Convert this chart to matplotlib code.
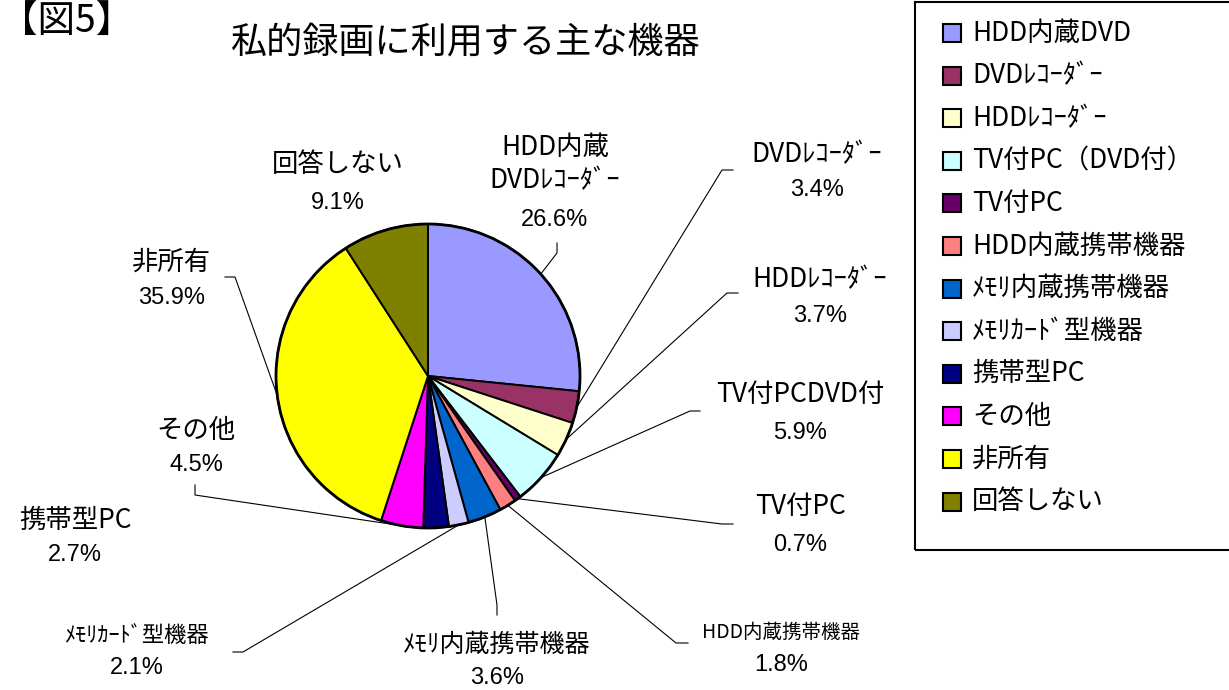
import matplotlib
matplotlib.use('Agg')
import matplotlib.pyplot as plt
import numpy as np
from matplotlib.patches import Rectangle

plt.rcParams['font.family'] = ['Noto Sans CJK JP', 'DejaVu Sans']

# データ
legend_labels = ['HDD内蔵DVD', 'DVDﾚｺｰﾀﾞｰ', 'HDDﾚｺｰﾀﾞｰ', 'TV付PC（DVD付）', 'TV付PC',
                 'HDD内蔵携帯機器', 'ﾒﾓﾘ内蔵携帯機器', 'ﾒﾓﾘｶｰﾄﾞ型機器', '携帯型PC',
                 'その他', '非所有', '回答しない']
slice_labels = ['HDD内蔵\nDVDﾚｺｰﾀﾞｰ', 'DVDﾚｺｰﾀﾞｰ', 'HDDﾚｺｰﾀﾞｰ', 'TV付PCDVD付', 'TV付PC',
                'HDD内蔵携帯機器', 'ﾒﾓﾘ内蔵携帯機器', 'ﾒﾓﾘｶｰﾄﾞ型機器', '携帯型PC',
                'その他', '非所有', '回答しない']
values = [26.6, 3.4, 3.7, 5.9, 0.7, 1.8, 3.6, 2.1, 2.7, 4.5, 35.9, 9.1]
colors = ['#9999FF', '#993366', '#FFFFCC', '#CCFFFF', '#660066', '#FF8080',
          '#0066CC', '#CCCCFF', '#000080', '#FF00FF', '#FFFF00', '#808000']

# ラベル配置 (ピクセル座標: x, 名前のy, %のy, 名前の文字サイズ)
label_x = [555, 817, 820, 800, 800, 781, 497, 137, 75, 196, 172, 338]
name_y = [164, 155, 280, 395, 507, 632, 645, 635, 520, 430, 262, 165]
pct_y = [220, 190, 316, 433, 545, 665, 678, 668, 555, 465, 298, 203]
name_size = [19, 19, 19, 19, 19, 14, 18, 16, 19, 19, 19, 19]
# 引き出し線の折れ点 (None は線なし)
leader_pts = [[(557, 253), (557, 243)],
              [(722, 170), (733, 170)],
              [(727, 293), (738, 293)],
              [(690, 411), (700, 411)],
              [(722, 524), (733, 524)],
              [(676, 643), (688, 643)],
              [(497, 605), (497, 615)],
              [(243, 652), (233, 652)],
              None,
              [(195, 495), (195, 485)],
              [(235, 277), (225, 277)],
              None]

W, H = 1229, 690
CX, CY, R = 428, 376, 152

fig = plt.figure(figsize=(W / 100, H / 100), dpi=100)
ax = fig.add_axes([0, 0, 1, 1])

wedges, _ = ax.pie(values, colors=colors, startangle=90, counterclock=False,
                   center=(CX, H - CY), radius=R,
                   wedgeprops=dict(edgecolor='black', linewidth=1.4))
ax.add_patch(plt.Circle((CX, H - CY), R, fill=False, edgecolor='black', lw=2))
ax.set_xlim(0, W)
ax.set_ylim(0, H)
ax.set_aspect('equal')
ax.axis('off')

pct_font = ['Liberation Sans', 'DejaVu Sans']

# ラベルと引き出し線
for i, w in enumerate(wedges):
    ax.text(label_x[i], H - name_y[i], slice_labels[i], ha='center', va='center',
            fontsize=name_size[i], linespacing=1.3)
    ax.text(label_x[i], H - pct_y[i], f'{values[i]:.1f}%', ha='center', va='center',
            fontsize=17, family=pct_font)
    if leader_pts[i] is None:
        continue
    ang = np.deg2rad((w.theta1 + w.theta2) / 2)
    xs = [CX + R * np.cos(ang)] + [p[0] for p in leader_pts[i]]
    ys = [H - CY + R * np.sin(ang)] + [H - p[1] for p in leader_pts[i]]
    ax.plot(xs, ys, color='black', lw=0.8)

# タイトル
ax.text(0, H - 22, '【図5】', ha='left', va='center', fontsize=27)
ax.text(466, H - 42, '私的録画に利用する主な機器', ha='center', va='center', fontsize=26)

# 凡例
ax.add_patch(Rectangle((915, H - 550), 340, 548, fill=False, edgecolor='black',
                       lw=1.5, clip_on=False))
for i, lab in enumerate(legend_labels):
    y = H - (33 + i * 42.6)
    ax.add_patch(Rectangle((943, y - 9), 18, 18, facecolor=colors[i],
                           edgecolor='black', lw=1.5))
    ax.text(972, y, lab, ha='left', va='center', fontsize=19)

plt.savefig('out.png', dpi=100)
plt.close()
